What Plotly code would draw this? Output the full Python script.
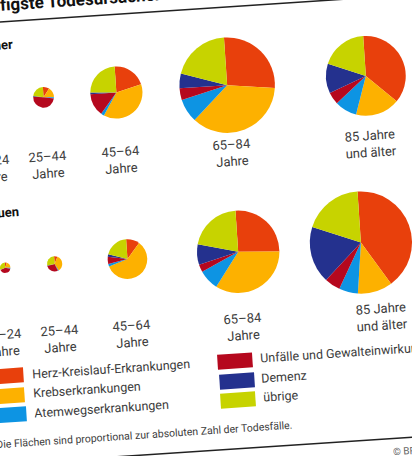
import math
import plotly.graph_objects as go

# --- Daten ---
ursachen = ["Herz-Kreislauf-Erkrankungen", "Krebserkrankungen", "Atemwegserkrankungen",
            "Unfälle und Gewalteinwirkungen", "Demenz", "übrige"]
farben = ["#e8400c", "#fdb100", "#0d94e3", "#b5081e", "#24318e", "#c7d300"]

altersgruppen = ["15–24<br>Jahre", "25–44<br>Jahre", "45–64<br>Jahre",
                 "65–84<br>Jahre", "85 Jahre<br>und älter"]

# Todesfälle insgesamt (Tausend), Flächen proportional
maenner_gesamt = [None, 12, 76, 255, 178]
frauen_gesamt = [3, 6.5, 44, 190, 292]

# Anteile in Prozent, Reihenfolge wie ursachen
maenner_anteile = [
    None,
    [10, 16, 2, 49, 1, 22],
    [21, 38, 2, 14, 1, 24],
    [27, 36, 8, 4, 5, 20],
    [37, 18, 9, 5, 12, 19],
]
frauen_anteile = [
    [6, 20, 3, 40, 1, 30],
    [7, 35, 2, 28, 1, 27],
    [11, 59, 2, 6, 2, 20],
    [26, 34, 8, 3, 8, 21],
    [41, 11, 6, 5, 18, 19],
]

# --- Layout (Foto ist leicht schief) ---
W, H = 412, 456
TILT = 3.8
c, s = math.cos(math.radians(TILT)), math.sin(math.radians(TILT))
K = 2.99  # px Radius pro Wurzel(Tausend)
spalten_u = [-20, 37, 110, 221, 360]
FONT = "Roboto, Arial, sans-serif"


def rot(u, v):
    return u * c + v * s, -u * s + v * c


def px(x, y):
    return x / W, 1 - y / H


fig = go.Figure()


def text_at(u, v, text, size, color="#3c3c3c", align="center", width=None):
    if align == "left":
        u = u + width / 2
    x, y = px(*rot(u, v))
    fig.add_annotation(x=x, y=y, xref="paper", yref="paper", text=text, showarrow=False,
                       textangle=-TILT, xanchor="center", yanchor="middle",
                       width=width, align=align,
                       font=dict(family=FONT, size=size, color=color))


def swatch(u, v, farbe):
    x, y = px(*rot(u, v))
    fig.add_annotation(x=x, y=y, xref="paper", yref="paper", text=" ", showarrow=False,
                       textangle=-TILT, xanchor="center", yanchor="middle",
                       width=34, height=14, bgcolor=farbe, borderpad=0,
                       font=dict(size=2))


def line_at(u0, v0, u1, v1):
    x0, y0 = px(*rot(u0, v0))
    x1, y1 = px(*rot(u1, v1))
    fig.add_shape(type="line", xref="paper", yref="paper", x0=x0, y0=y0, x1=x1, y1=y1,
                  line=dict(color="#222222", width=1.5))


reihen = [("Männer", maenner_gesamt, maenner_anteile, 100, 168),
          ("Frauen", frauen_gesamt, frauen_anteile, 267, 342)]

for name, gesamt, anteile, v_pie, v_lab in reihen:
    text_at(-35, v_pie - 55, f"<b>{name}</b>", 13, color="#111111", align="left", width=80)
    for i, u in enumerate(spalten_u):
        text_at(u, v_lab, altersgruppen[i], 13)
        if anteile[i] is None:
            continue
        r = K * math.sqrt(gesamt[i])
        cx, cy = rot(u, v_pie)
        cx = min(max(cx, r), W - r)
        fig.add_trace(go.Pie(
            labels=ursachen, values=anteile[i], sort=False, direction="clockwise",
            rotation=-TILT, textinfo="none", showlegend=False,
            marker=dict(colors=farben, line=dict(width=0)),
            domain=dict(x=[(cx - r) / W, (cx + r) / W], y=[1 - (cy + r) / H, 1 - (cy - r) / H]),
            hovertemplate="%{label}: %{value} %<extra></extra>",
        ))

# Titel
text_at(-31, 5, "<b>Häufigste Todesursachen nach Alter</b>", 17, color="#111111",
        align="left", width=420)
line_at(-40, 22, 460, 22)

# Legende
for i, (u_sw, u_tx) in enumerate([(-19, 7)] * 3 + [(211, 236)] * 3):
    v = [376, 395.5, 415][i % 3]
    swatch(u_sw, v, farben[i])
    text_at(u_tx, v - 1, ursachen[i], 12.5, align="left", width=230)

text_at(-33, 444, "Die Flächen sind proportional zur absoluten Zahl der Todesfälle.", 10.5,
        align="left", width=340)
line_at(-40, 463.5, 460, 463.5)
text_at(362, 477, "© BR", 10, color="#666666", align="left", width=40)

fig.update_layout(
    width=W, height=H,
    margin=dict(l=0, r=0, t=0, b=0),
    paper_bgcolor="white", plot_bgcolor="white",
    font=dict(family=FONT),
)

# Standard-Rand des body entfernen, damit die Grafik bündig im Fenster sitzt
fig.write_html("out.html", config={"displayModeBar": False},
               post_script="document.body.style.margin='0';")
